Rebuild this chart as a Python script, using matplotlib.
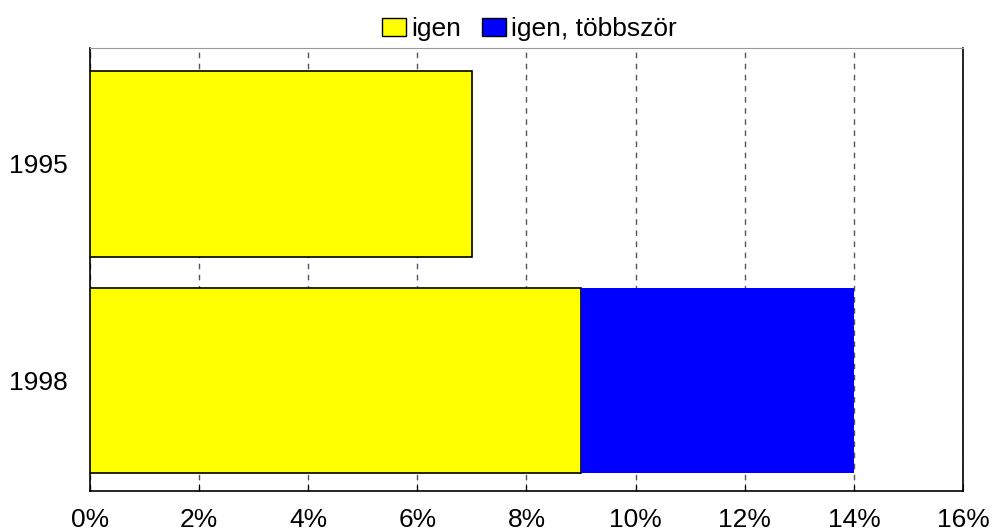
import matplotlib
matplotlib.use('Agg')
import matplotlib.pyplot as plt
from matplotlib.ticker import FuncFormatter

years = ['1995', '1998']
igen = [7, 9]
igen_tobbszor = [0, 5]

plt.rcParams['font.family'] = ['Liberation Sans', 'DejaVu Sans']

fig = plt.figure(figsize=(9.93, 5.32), dpi=100)
ax = fig.add_axes([0.0906, 0.0771, 0.8792, 0.8327])

pos = list(range(len(years)))
ax.barh(pos, igen, height=0.857, color='#ffff00', edgecolor='black', linewidth=1.2,
        label='igen', zorder=3)
ax.barh(pos, igen_tobbszor, left=igen, height=0.857, color='#0000ff', edgecolor='#0000ff',
        linewidth=0, label='igen, többször', zorder=3)

ax.set_xlim(0, 16)
ax.set_ylim(1.51, -0.535)
ax.set_xticks(range(0, 17, 2))
ax.xaxis.set_major_formatter(FuncFormatter(lambda v, p: f'{v:.0f}%'))
ax.set_yticks(pos)
ax.set_yticklabels(years)
ax.tick_params(axis='x', direction='in', length=5, pad=12, labelsize=19)
ax.tick_params(axis='y', length=0, pad=16, labelsize=19)
ax.grid(axis='x', linestyle=(0, (4, 4)), color='#555555', linewidth=1, zorder=1)

for s in ['left', 'bottom', 'right']:
    ax.spines[s].set_color('black')
    ax.spines[s].set_linewidth(1.2)
ax.spines['top'].set_color('#999999')

leg = fig.legend(loc='upper center', bbox_to_anchor=(0.533, 1.012), ncol=2, frameon=False,
                 fontsize=19, handlelength=0.9, handleheight=0.65, handletextpad=0.2,
                 columnspacing=0.8)
for h in leg.legend_handles:
    h.set_edgecolor('black')
    h.set_linewidth(1)

fig.savefig('out.png', dpi=100)
